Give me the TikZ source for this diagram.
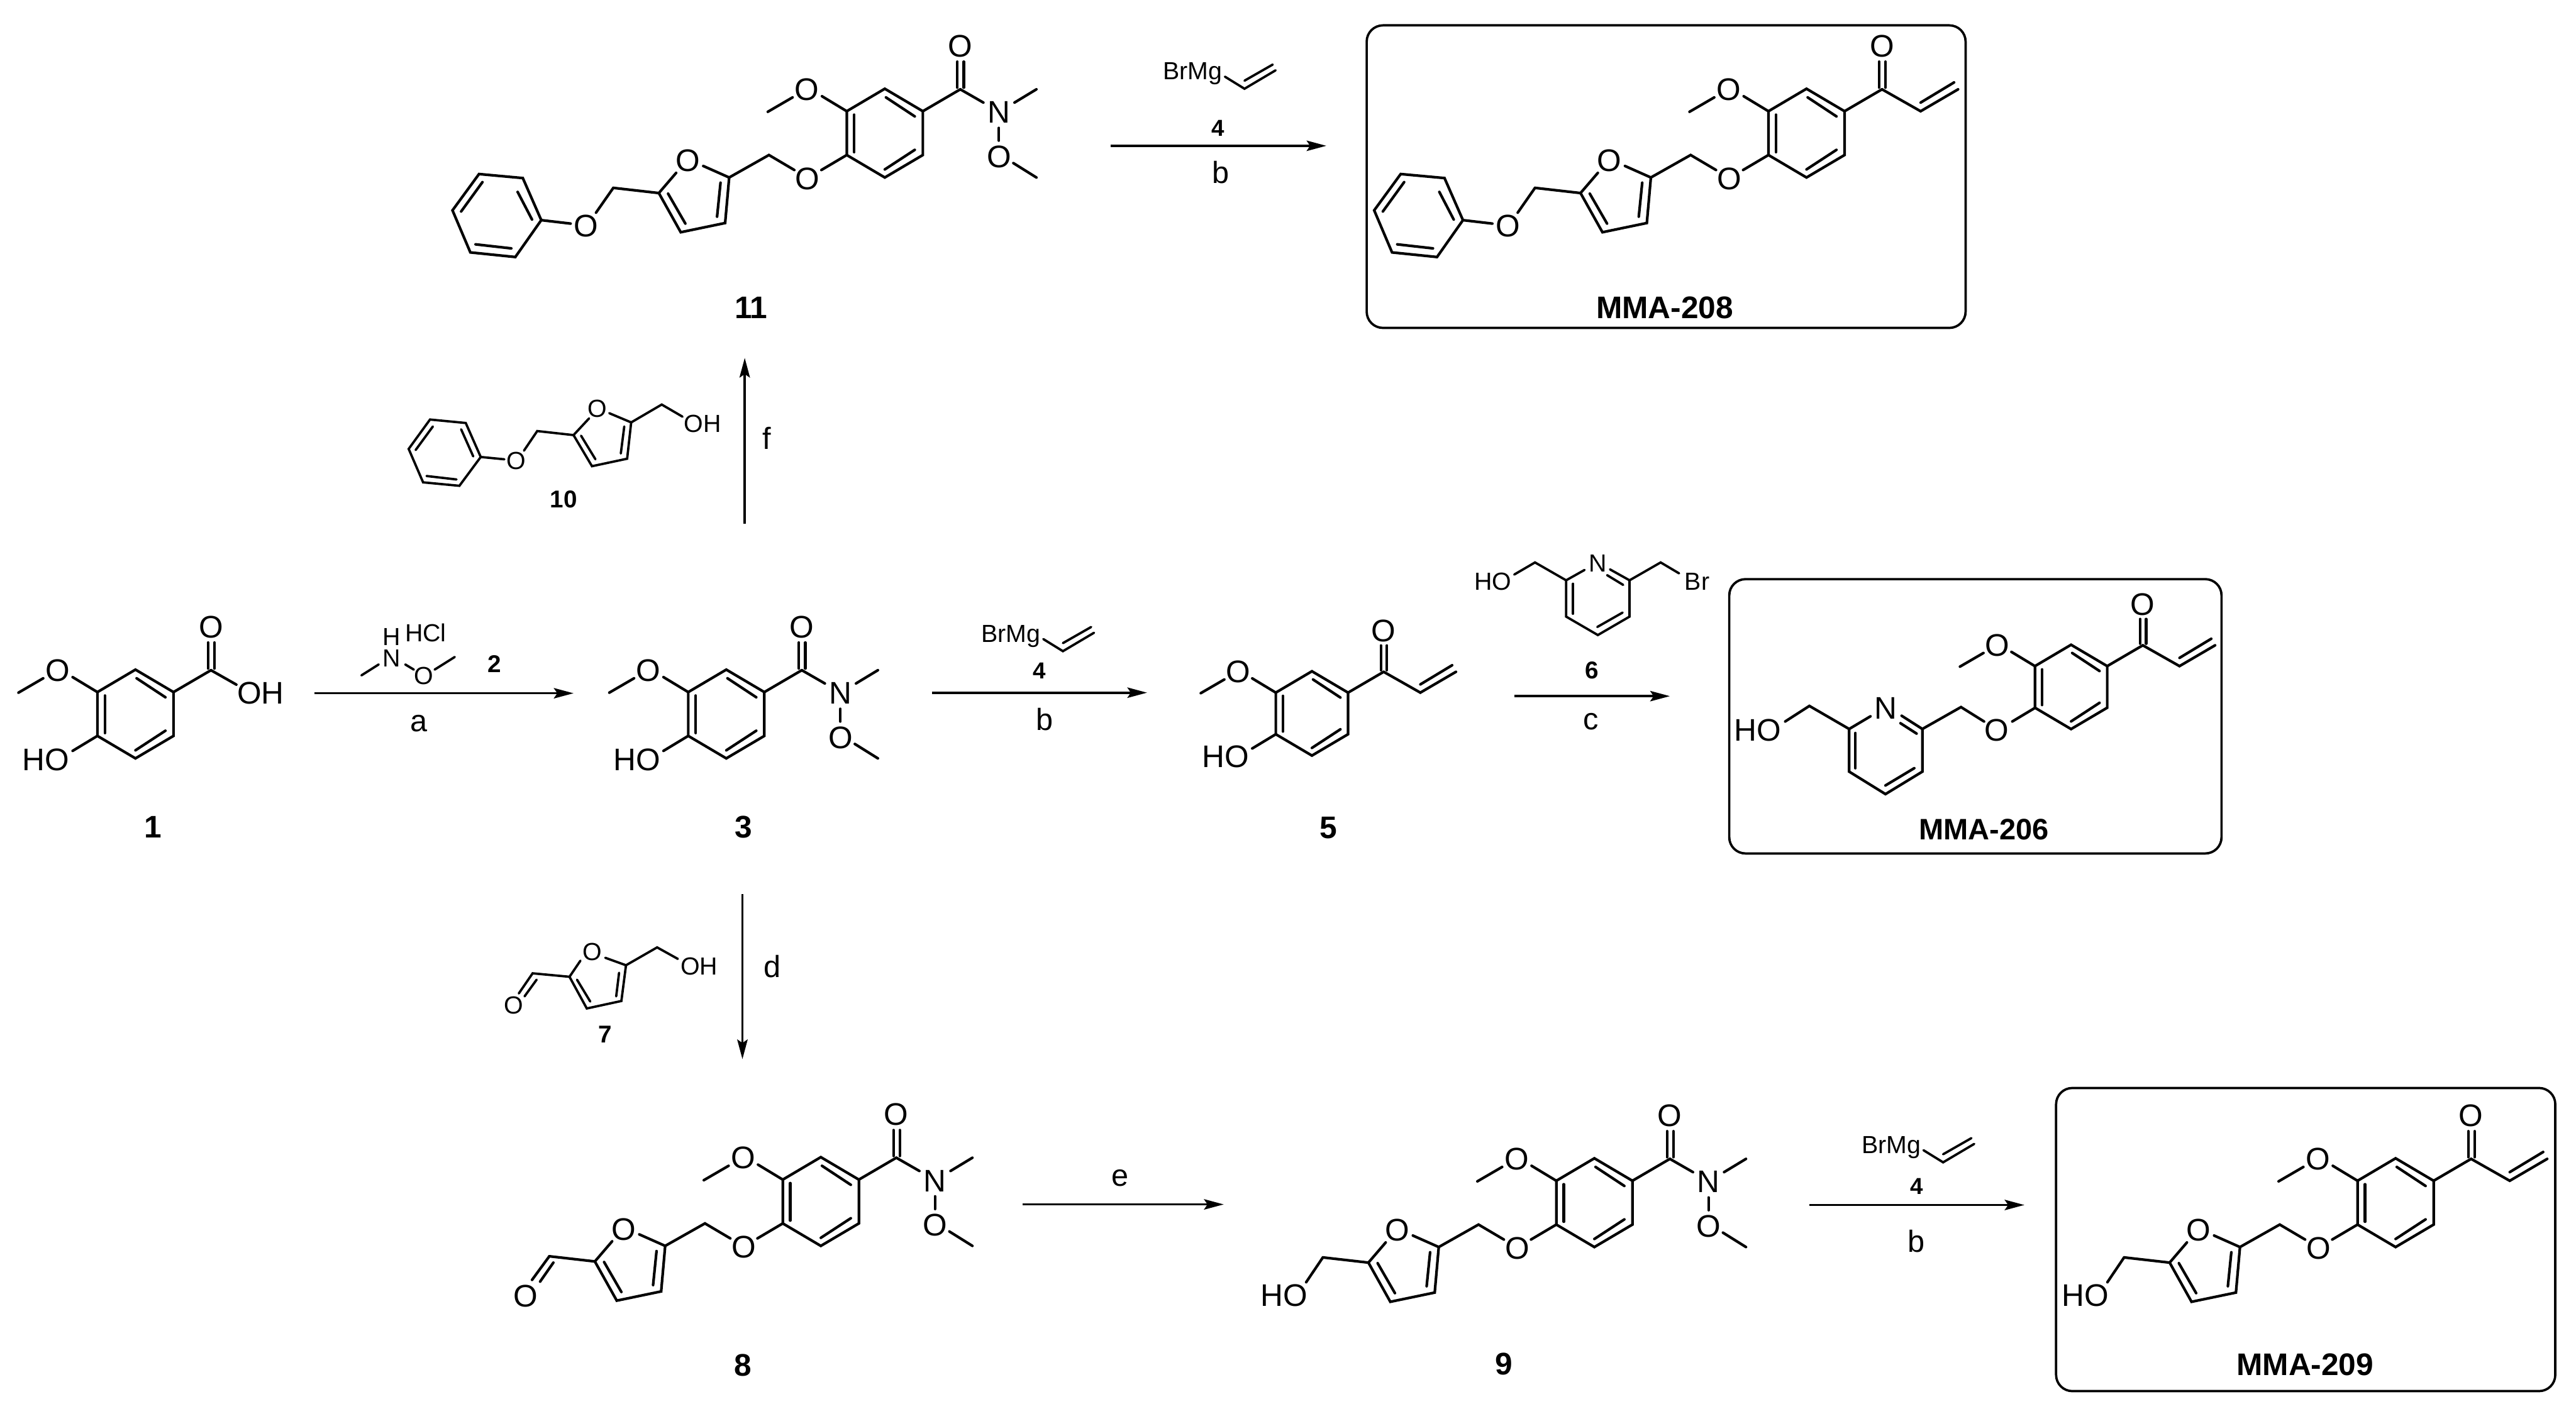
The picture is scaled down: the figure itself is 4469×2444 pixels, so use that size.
\documentclass[tikz,border=0pt]{standalone}
\usepackage{fontspec}
\setmainfont{Liberation Sans}
\usetikzlibrary{arrows.meta}
\tikzset{
	bondstyle/.style={line width=1.3pt,line cap=round,line join=miter},
	thinstyle/.style={line width=1.15pt,line cap=round,line join=miter},
	atomstyle/.style={inner sep=0pt,font=\fontsize{15.4}{18}\selectfont},
	smallatomstyle/.style={inner sep=0pt,font=\fontsize{12.2}{14}\selectfont},
	letterstyle/.style={inner sep=0pt,font=\fontsize{15.1}{18}\selectfont},
	labelstyle/.style={inner sep=0pt,font=\fontsize{15.4}{18}\selectfont\bfseries},
	narrowlabelstyle/.style={inner sep=0pt,font=\fontsize{14.6}{18}\selectfont\bfseries},
	smalllabelstyle/.style={inner sep=0pt,font=\fontsize{12}{14}\selectfont\bfseries},
	tinylabelstyle/.style={inner sep=0pt,font=\fontsize{11.4}{14}\selectfont\bfseries},
	arrowstyle/.style={line width=1.14pt,-{Stealth[length=9.7pt,width=5.1pt,inset=1.7pt]}},
	boxstyle/.style={line width=1.15pt,rounded corners=8pt},
	arenepic/.pic={
		\draw[bondstyle] (0,-77)--(66,-38)--(66,38)--(0,77)--(-66,38)--(-66,-38)--cycle;
		\draw[bondstyle] (-53,-32)--(-53,33);
		\draw[bondstyle] (2,-62)--(52,-29);
		\draw[bondstyle] (0,63)--(52,29);
		\draw[bondstyle] (-66,-38)--(-109,-64);
		\draw[bondstyle] (-160,-62)--(-203,-37);
		\node[atomstyle] (ome) at (-135,-76) {O};
		\draw[bondstyle] (66,-38)--(131,-76);
		\draw[bondstyle] (126,-79)--(126,-124);
		\draw[bondstyle] (137,-79)--(137,-124);
		\node[atomstyle] (co) at (131,-151) {O};
	},
	acidpic/.pic={
		\draw[bondstyle] (131,-76)--(175,-51);
		\node[atomstyle,anchor=west] (oh) at (176,-36) {OH};
	},
	amidepic/.pic={
		\draw[bondstyle] (131,-76)--(171,-53);
		\node[atomstyle] (n) at (198,-36) {N};
		\draw[bondstyle] (225,-53)--(263,-76);
		\draw[bondstyle] (198,-9)--(198,13);
		\node[atomstyle] (no) at (198,41) {O};
		\draw[bondstyle] (223,52)--(263,77);
	},
	enonepic/.pic={
		\draw[bondstyle] (131,-76)--(198,-38)--(263,-76);
		\draw[bondstyle] (198,-53)--(256,-88);
	},
	phenolpic/.pic={
		\draw[bondstyle] (-66,38)--(-109,64);
		\node[atomstyle,anchor=east] (ho) at (-114,79) {HO};
	},
	furanpic/.pic={
		\draw[bondstyle] (-66,38)--(-110,64);
		\node[atomstyle] (eo) at (-134,79) {O};
		\draw[bondstyle] (-157,64)--(-201,38)--(-270,77)--(-315,57);
		\node[atomstyle] (fo) at (-342,48) {O};
		\draw[bondstyle] (-362,69)--(-392,104)--(-354,172)--(-277,156)--(-270,77);
		\draw[bondstyle] (-285,86)--(-291,145);
		\draw[bondstyle] (-376,105)--(-346,157);
		\draw[bondstyle] (-392,104)--(-471,95);
	},
	phenoxypic/.pic={
		\draw[bondstyle] (-471,95)--(-501,138);
		\node[atomstyle] (po) at (-518,161) {O};
		\draw[bondstyle] (-545,157)--(-596,151);
		\draw[bondstyle] (-596,151)--(-628,78)--(-704,71)--(-750,134)--(-719,207)--(-641,215)--cycle;
		\draw[bondstyle] (-637,102)--(-612,150);
		\draw[bondstyle] (-698,85)--(-735,136);
		\draw[bondstyle] (-710,193)--(-648,200);
	},
	carbinolpic/.pic={
		\draw[bondstyle] (-471,95)--(-500,138);
		\node[atomstyle,anchor=east] (fho) at (-497,161) {HO};
	},
	formylpic/.pic={
		\draw[bondstyle] (-471,95)--(-501,136);
		\draw[bondstyle] (-464,106)--(-487,139);
		\node[atomstyle] (cho) at (-512,164) {O};
	},
	grignardpic/.pic={
		\node[smallatomstyle,anchor=base west] (brmg) at (0,0) {BrMg};
		\draw[thinstyle] (108,-5)--(142,16)--(196,-16);
		\draw[thinstyle] (142,2)--(191,-26);
	}
}

\begin{document}
\begin{tikzpicture}[x=0.01cm,y=-0.01cm]
		\useasboundingbox (0,0) rectangle (4469,2444);

		\pic (c1) at (235,1239) {arenepic};
		\pic (c1a) at (235,1239) {acidpic};
		\pic (c1b) at (235,1239) {phenolpic};
		\node[labelstyle] (lab1) at (265,1435) {1};

		\node[smallatomstyle] (rn) at (679,1142) {N};
		\node[smallatomstyle] (rh) at (679,1105) {H};
		\node[smallatomstyle,anchor=west] (rhcl) at (702,1098) {HCl};
		\node[smallatomstyle] (ro) at (735,1173) {O};
		\draw[thinstyle] (657,1153)--(627,1172);
		\draw[thinstyle] (703,1153)--(718,1162);
		\draw[thinstyle] (754,1162)--(789,1140);
		\node[smalllabelstyle] (lab2) at (858,1152) {2};
		\coordinate (a1) at (545,1203);
		\coordinate (a2) at (995,1203);
		\draw[arrowstyle] (a1)--(a2);
		\node[letterstyle] (leta) at (727,1255) {a};

		\pic (c3) at (1260,1239) {arenepic};
		\pic (c3a) at (1260,1239) {amidepic};
		\pic (c3b) at (1260,1239) {phenolpic};
		\node[labelstyle] (lab3) at (1290,1435) {3};

		\pic (r4a) at (1702,1114) {grignardpic};
		\node[tinylabelstyle] (lab4a) at (1803,1164) {4};
		\coordinate (b1) at (1617,1202);
		\coordinate (b2) at (1990,1202);
		\draw[arrowstyle] (b1)--(b2);
		\node[letterstyle] (letb1) at (1812,1248) {b};

		\pic[scale=0.95] (c5) at (2276,1238) {arenepic};
		\pic[scale=0.95] (c5a) at (2276,1238) {enonepic};
		\pic[scale=0.95] (c5b) at (2276,1238) {phenolpic};
		\node[labelstyle] (lab5) at (2305,1437) {5};

		\draw[thinstyle] (2627,997)--(2663,976)--(2717,1007)--(2749,989);
		\node[smallatomstyle] (n6) at (2772,977) {N};
		\draw[thinstyle] (2793,988)--(2827,1007)--(2827,1070)--(2772,1102)--(2717,1070)--(2717,1007);
		\draw[thinstyle] (2788,998)--(2816,1015);
		\draw[thinstyle] (2729,1013)--(2729,1065);
		\draw[thinstyle] (2815,1063)--(2771,1088);
		\draw[thinstyle] (2827,1007)--(2881,976)--(2913,995);
		\node[smallatomstyle,anchor=east] (ho6) at (2623,1009) {HO};
		\node[smallatomstyle,anchor=west] (br6) at (2922,1009) {Br};
		\node[smalllabelstyle] (lab6) at (2762,1163) {6};
		\coordinate (c1) at (2627,1208);
		\coordinate (c2) at (2897,1208);
		\draw[arrowstyle] (c1)--(c2);
		\node[letterstyle] (letc) at (2760,1252) {c};

		\draw[boxstyle] (3000,1005) rectangle (3854,1481);
		\pic[scale=0.95] (m6) at (3593,1192) {arenepic};
		\pic[scale=0.95] (m6a) at (3593,1192) {enonepic};
		\draw[bondstyle] (3531,1228)--(3491,1252);
		\node[atomstyle] (m6o) at (3464,1267) {O};
		\draw[bondstyle] (3442,1252)--(3402,1227)--(3335,1265)--(3299,1242);
		\node[atomstyle] (m6n) at (3271,1229) {N};
		\draw[bondstyle] (3245,1243)--(3208,1265)--(3208,1339)--(3271,1378)--(3335,1339)--(3335,1265);
		\draw[bondstyle] (3297,1255)--(3325,1273);
		\draw[bondstyle] (3219,1272)--(3219,1333);
		\draw[bondstyle] (3321,1333)--(3271,1363);
		\draw[bondstyle] (3208,1265)--(3139,1225)--(3097,1252);
		\node[atomstyle,anchor=east] (m6h) at (3091,1267) {HO};
		\node[narrowlabelstyle] (labm6) at (3442,1439) {MMA-206};

		\draw[thinstyle] (875,797)--(834,793)--(808,734)--(746,728)--(709,779)--(734,837)--(797,843)--(834,793);
		\draw[thinstyle] (800,745)--(821,792);
		\draw[thinstyle] (751,740)--(721,781);
		\draw[thinstyle] (740,826)--(792,832);
		\node[smallatomstyle] (o10) at (895,800) {O};
		\draw[thinstyle] (909,782)--(932,748)--(995,755)--(1022,726);
		\node[smallatomstyle] (f10) at (1036,709) {O};
		\draw[thinstyle] (1057,717)--(1095,733)--(1088,796)--(1027,809)--(995,755);
		\draw[thinstyle] (1083,740)--(1077,787);
		\draw[thinstyle] (1008,756)--(1033,797);
		\draw[thinstyle] (1095,733)--(1148,702)--(1184,723);
		\node[smallatomstyle,anchor=west] (oh10) at (1186,735) {OH};
		\node[smalllabelstyle] (lab10) at (978,867) {10};
		\coordinate (f1) at (1292,909);
		\coordinate (f2) at (1292,621);
		\draw[arrowstyle] (f1)--(f2);
		\node[letterstyle] (letf) at (1330,760) {f};

		\pic (c11) at (1535,231) {arenepic};
		\pic (c11a) at (1535,231) {amidepic};
		\pic (c11b) at (1535,231) {furanpic};
		\pic (c11c) at (1535,231) {phenoxypic};
		\node[labelstyle] (lab11) at (1303,534) {11};

		\pic (r4b) at (2017,138) {grignardpic};
		\node[tinylabelstyle] (lab4b) at (2113,222) {4};
		\coordinate (b3) at (1927,253);
		\coordinate (b4) at (2301,253);
		\draw[arrowstyle] (b3)--(b4);
		\node[letterstyle] (letb2) at (2118,299) {b};

		\draw[boxstyle] (2371,44) rectangle (3410,569);
		\pic (m8) at (3134,231) {arenepic};
		\pic (m8a) at (3134,231) {enonepic};
		\pic (m8b) at (3134,231) {furanpic};
		\pic (m8c) at (3134,231) {phenoxypic};
		\node[labelstyle] (labm8) at (2888,534) {MMA-208};

		\coordinate (d1) at (1288,1552);
		\coordinate (d2) at (1288,1838);
		\draw[arrowstyle] (d1)--(d2);
		\node[letterstyle] (letd) at (1340,1677) {d};

		\node[smallatomstyle] (o7) at (891,1745) {O};
		\draw[thinstyle] (900,1724)--(924,1689)--(988,1695)--(1007,1667);
		\draw[thinstyle] (931,1700)--(910,1729);
		\node[smallatomstyle] (f7) at (1028,1652) {O};
		\draw[thinstyle] (1050,1662)--(1086,1675)--(1078,1737)--(1018,1750)--(988,1695);
		\draw[thinstyle] (1074,1688)--(1069,1729);
		\draw[thinstyle] (1001,1700)--(1024,1738);
		\draw[thinstyle] (1086,1675)--(1140,1644)--(1176,1664);
		\node[smallatomstyle,anchor=west] (oh7) at (1180,1677) {OH};
		\node[smalllabelstyle] (lab7) at (1050,1795) {7};

		\pic (c8) at (1424,2085) {arenepic};
		\pic (c8a) at (1424,2085) {amidepic};
		\pic (c8b) at (1424,2085) {furanpic};
		\pic (c8c) at (1424,2085) {formylpic};
		\node[labelstyle] (lab8) at (1289,2369) {8};

		\coordinate (e1) at (1774,2090);
		\coordinate (e2) at (2123,2090);
		\draw[arrowstyle] (e1)--(e2);
		\node[letterstyle] (lete) at (1943,2044) {e};

		\pic (c9) at (2766,2087) {arenepic};
		\pic (c9a) at (2766,2087) {amidepic};
		\pic (c9b) at (2766,2087) {furanpic};
		\pic (c9c) at (2766,2087) {carbinolpic};
		\node[labelstyle] (lab9) at (2609,2367) {9};

		\pic (r4c) at (3229,2001) {grignardpic};
		\node[tinylabelstyle] (lab4c) at (3325,2059) {4};
		\coordinate (b5) at (3139,2091);
		\coordinate (b6) at (3512,2091);
		\draw[arrowstyle] (b5)--(b6);
		\node[letterstyle] (letb3) at (3325,2154) {b};

		\draw[boxstyle] (3567,1888) rectangle (4433,2414);
		\pic (m9) at (4156,2087) {arenepic};
		\pic (m9a) at (4156,2087) {enonepic};
		\pic (m9b) at (4156,2087) {furanpic};
		\pic (m9c) at (4156,2087) {carbinolpic};
		\node[labelstyle] (labm9) at (3999,2368) {MMA-209};
\end{tikzpicture}
\end{document}
